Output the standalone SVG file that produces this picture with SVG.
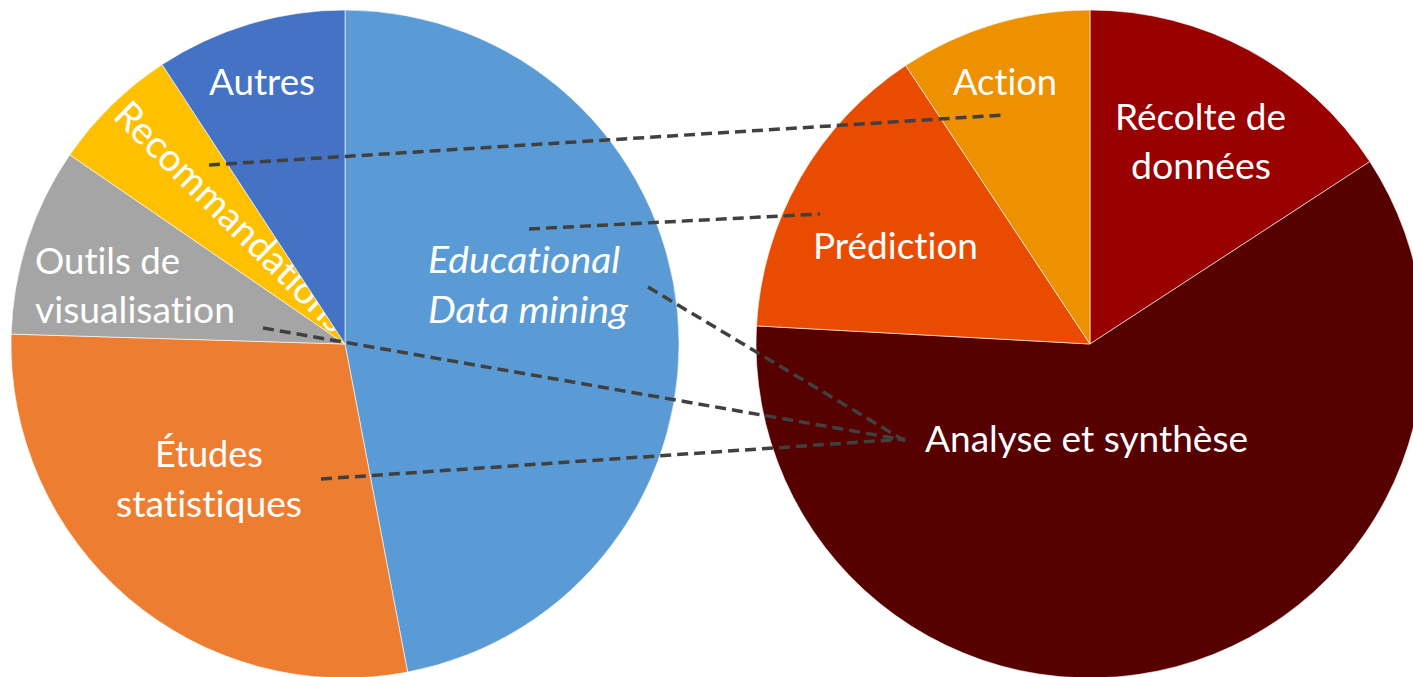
<svg xmlns="http://www.w3.org/2000/svg" width="1413" height="677" viewBox="0 0 1413 677">
<style>
.s{stroke:#ffffff;stroke-width:1;stroke-opacity:0.6}
.t{font-family:Lato,"Open Sans","Liberation Sans",sans-serif;font-size:36px;fill:#ffffff;font-variant-ligatures:none;font-feature-settings:"liga" 0,"dlig" 0}
.i{font-style:italic}
.c{fill:none;stroke:#404040;stroke-width:3.5;stroke-dasharray:11 6}
</style>
<rect width="1413" height="677" fill="#ffffff"/>
<g id="pie-left">
<g id="edm">
<path class="s" fill="#5B9BD5" d="M345,344 L345,10 A334,334 0 0 1 407.6,672.1 Z"/>
<text class="t i" x="428" y="273" textLength="192" lengthAdjust="spacingAndGlyphs">Educational</text>
<text class="t i" x="428" y="323" textLength="200" lengthAdjust="spacingAndGlyphs">Data mining</text>
</g>
<g id="etudes">
<path class="s" fill="#ED7D31" d="M345,344 L407.6,672.1 A334,334 0 0 1 11.15,334.1 Z"/>
<text class="t" x="155" y="467" textLength="108" lengthAdjust="spacingAndGlyphs">Études</text>
<text class="t" x="116" y="517" textLength="186" lengthAdjust="spacingAndGlyphs">statistiques</text>
</g>
<g id="outils">
<path class="s" fill="#A5A5A5" d="M345,344 L11.15,334.1 A334,334 0 0 1 69.75,154.8 Z"/>
<text class="t" x="35" y="274" textLength="145" lengthAdjust="spacingAndGlyphs">Outils de</text>
<text class="t" x="35" y="323" textLength="200" lengthAdjust="spacingAndGlyphs">visualisation</text>
</g>
<g id="recommandations">
<path class="s" fill="#FFC000" d="M345,344 L69.75,154.8 A334,334 0 0 1 162.1,64.5 Z"/>
<text class="t" x="0" y="0" text-anchor="middle" transform="translate(222,226) rotate(44.5)" textLength="310" lengthAdjust="spacingAndGlyphs" style="font-size:38px">Recommandations</text>
</g>
<g id="autres">
<path class="s" fill="#4472C4" d="M345,344 L162.1,64.5 A334,334 0 0 1 345,10 Z"/>
<text class="t" x="209" y="95" textLength="106" lengthAdjust="spacingAndGlyphs">Autres</text>
</g>
</g>
<g id="pie-right">
<g id="recolte">
<path class="s" fill="#990000" d="M1090,344 L1090,10 A334,334 0 0 1 1369.8,161.6 Z"/>
<text class="t" x="1115" y="130" textLength="171" lengthAdjust="spacingAndGlyphs">Récolte de</text>
<text class="t" x="1131" y="179" textLength="140" lengthAdjust="spacingAndGlyphs">données</text>
</g>
<g id="analyse">
<path class="s" fill="#560000" d="M1090,344 L1369.8,161.6 A334,334 0 1 1 756.5,325.9 Z"/>
<text class="t" x="925" y="452" textLength="323" lengthAdjust="spacingAndGlyphs">Analyse et synthèse</text>
</g>
<g id="prediction">
<path class="s" fill="#E94C00" d="M1090,344 L756.5,325.9 A334,334 0 0 1 905.7,65.5 Z"/>
<text class="t" x="813" y="259" textLength="165" lengthAdjust="spacingAndGlyphs">Prédiction</text>
</g>
<g id="action">
<path class="s" fill="#ED9100" d="M1090,344 L905.7,65.5 A334,334 0 0 1 1090,10 Z"/>
<text class="t" x="953" y="95" textLength="104" lengthAdjust="spacingAndGlyphs">Action</text>
</g>
</g>
<g id="connectors">
<path class="c" d="M209,165 L1004,115"/>
<path class="c" d="M529,229 L820,214"/>
<path class="c" d="M648,287 L905,441"/>
<path class="c" d="M263,328 L905,440"/>
<path class="c" d="M321,479 L905,439"/>
</g>
</svg>
